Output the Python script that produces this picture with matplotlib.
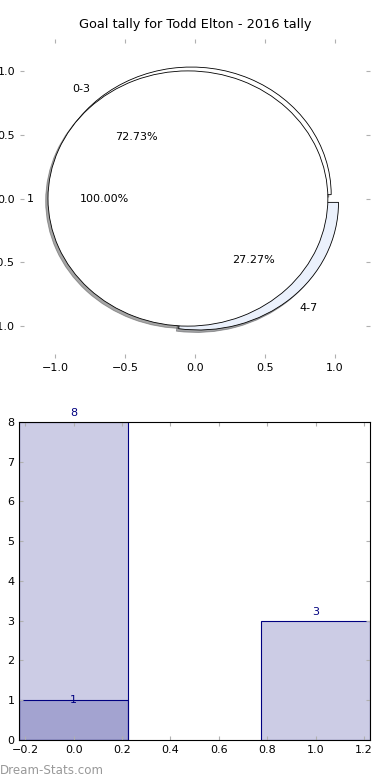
import matplotlib
matplotlib.use("Agg")
import matplotlib.pyplot as plt

# Pie data (outer ring: goal ranges, inner: single category)
outer_labels = ["0-3", "4-7"]
outer_values = [8, 3]
inner_labels = ["1"]
inner_values = [1]

# Bar data
bar_x = [0, 1]
bar_heights = [8, 3]
bar2_x = [0]
bar2_heights = [1]

title = "Goal tally for Todd Elton - 2016 tally"

fig = plt.figure(figsize=(3.9, 7.8), dpi=100)
tick_grey = "#b0b0b0"
shadow = dict(ox=-0.012, oy=-0.014)

# ---- top: pie ----
ax1 = fig.add_axes([0.0513, 0.541, 0.897, 0.409])
ax1.pie(outer_values, labels=outer_labels, autopct="%.2f%%",
        explode=[0.04, 0.04], shadow=shadow, colors=["white", "#ebf1fc"],
        wedgeprops=dict(edgecolor="black", linewidth=0.6),
        textprops=dict(fontsize=8), frame=True)
ax1.pie(inner_values, labels=inner_labels, autopct="%.2f%%",
        explode=[0.05], shadow=shadow, colors=["white"],
        wedgeprops=dict(edgecolor="black", linewidth=0.6),
        textprops=dict(fontsize=8), frame=True)
ax1.set_aspect("auto")
ax1.set_xlim(-1.25, 1.25)
ax1.set_ylim(-1.25, 1.25)
ax1.set_xticks([-1.0, -0.5, 0.0, 0.5, 1.0])
ax1.set_yticks([-1.0, -0.5, 0.0, 0.5, 1.0])
for s in ax1.spines.values():
    s.set_visible(False)
ax1.tick_params(direction="in", length=3, color=tick_grey, labelsize=8,
                top=True, right=True)
ax1.set_title(title, fontsize=9.3, pad=8)

# ---- bottom: bars ----
ax2 = fig.add_axes([0.0495, 0.0513, 0.899, 0.408])
ax2.bar(bar_x, bar_heights, width=0.45, color=(0, 0, 0.5, 0.2),
        edgecolor="navy", linewidth=0.8)
ax2.bar(bar2_x, bar2_heights, width=0.45, color=(0, 0, 0.5, 0.2),
        edgecolor="navy", linewidth=0.8)
for x, h in zip(bar_x, bar_heights):
    ax2.text(x, h + 0.1, str(h), ha="center", va="bottom", color="navy", fontsize=8)
for x, h in zip(bar2_x, bar2_heights):
    ax2.text(x, h, str(h), ha="center", va="center", color="navy", fontsize=8)
ax2.set_xlim(-0.225, 1.225)
ax2.set_ylim(0, 8)
ax2.set_xticks([-0.2, 0.0, 0.2, 0.4, 0.6, 0.8, 1.0, 1.2])
ax2.tick_params(direction="in", length=3, color=tick_grey, labelsize=8,
                top=True, right=True)

fig.text(0.0, 0.008, "Dream-Stats.com", color="#999999", fontsize=8.6)

fig.savefig("out.png", dpi=100)
